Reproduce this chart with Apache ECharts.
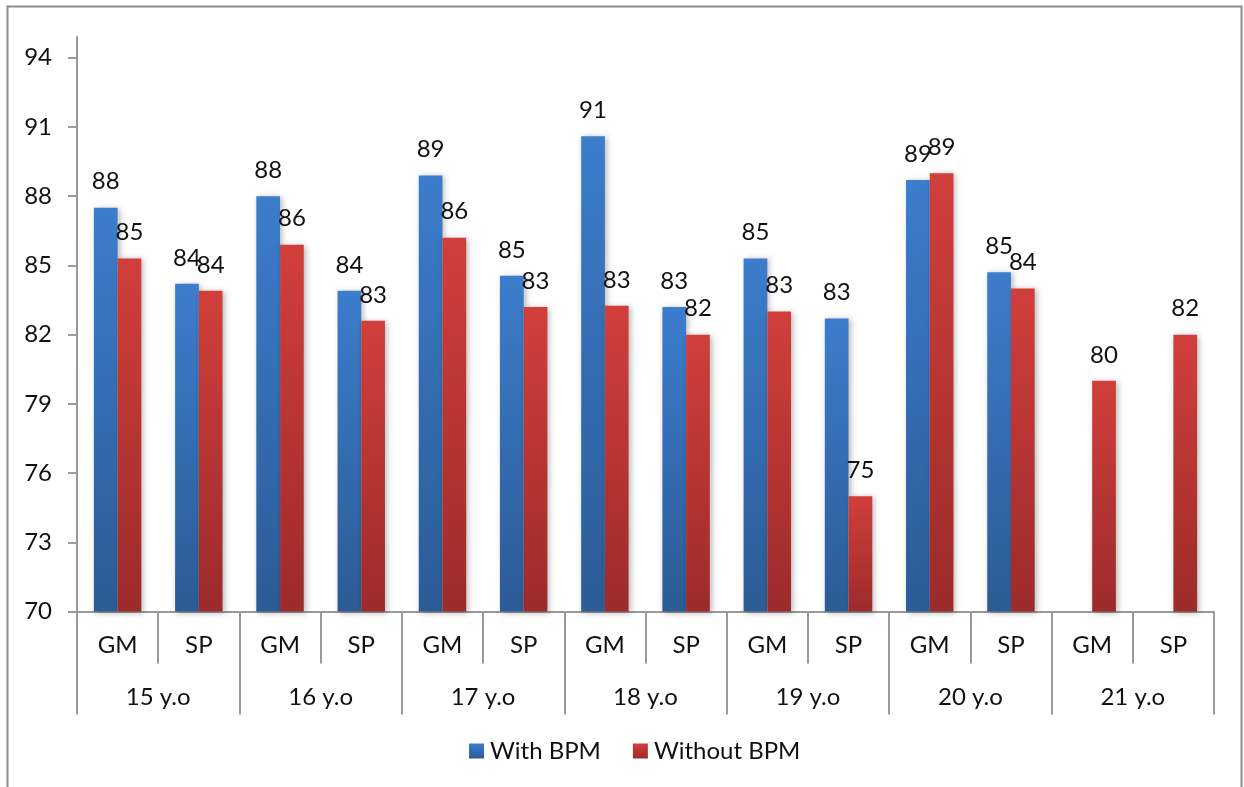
<!DOCTYPE html>
<html>
<head>
<meta charset="utf-8">
<script src="https://cdn.jsdelivr.net/npm/echarts@6/dist/echarts.min.js"></script>
<style>
  html, body { margin: 0; padding: 0; background: #fff; }
  #chart { width: 1244px; height: 787px; }
</style>
</head>
<body>
<div id="chart"></div>
<script>
// Sub-categories (inner axis row) and age groups (outer axis row)
const subCategories = ['GM', 'SP', 'GM', 'SP', 'GM', 'SP', 'GM', 'SP', 'GM', 'SP', 'GM', 'SP', 'GM', 'SP'];
const ageGroups = ['15 y.o', '16 y.o', '17 y.o', '18 y.o', '19 y.o', '20 y.o', '21 y.o'];

// Scores per sub-category
const withBPM = [87.5, 84.2, 88.0, 83.9, 88.9, 84.55, 90.6, 83.2, 85.3, 82.7, 88.7, 84.7, null, null];
const withoutBPM = [85.3, 83.9, 85.9, 82.6, 86.2, 83.2, 83.25, 82.0, 83.0, 75.0, 89.0, 84.0, 80.0, 82.0];

const yTicks = [70, 73, 76, 79, 82, 85, 88, 91, 94];

const FONT = 'Lato, "Open Sans", sans-serif';
const FONT_SIZE = 24;
const AXIS_GRAY = '#9a9a9a';

function grad(top, bottom) {
  return new echarts.graphic.LinearGradient(0, 0, 0, 1, [
    { offset: 0, color: top },
    { offset: 1, color: bottom }
  ]);
}
const blueFill = grad('#3c7dcc', '#2c5b96');
const redFill = grad('#d13f3b', '#9c2b2b');

const valueLabel = {
  show: true,
  position: 'top',
  distance: 14,
  color: '#111',
  fontFamily: FONT,
  fontSize: FONT_SIZE,
  formatter: p => (p.value == null ? '' : String(Math.round(p.value)))
};

const barShadow = {
  shadowBlur: 6,
  shadowColor: 'rgba(0,0,0,0.28)',
  shadowOffsetX: 2,
  shadowOffsetY: 1
};

const chart = echarts.init(document.getElementById('chart'), null, { renderer: 'canvas' });

chart.setOption({
  animation: false,
  backgroundColor: '#fff',
  textStyle: { fontFamily: FONT },
  graphic: [{
    type: 'rect',
    shape: { x: 7.5, y: 6.5, width: 1234, height: 800 },
    style: { fill: null, stroke: '#8c8c8c', lineWidth: 2 },
    silent: true,
    z: -1
  }],
  grid: { left: 77, right: 30, top: 37, bottom: 175.5 },
  legend: {
    bottom: 19,
    left: 464,
    itemWidth: 15,
    itemHeight: 15,
    itemGap: 32,
    icon: 'rect',
    textStyle: { fontFamily: FONT, fontSize: FONT_SIZE, color: '#111', padding: [0, 0, 0, 1] },
    data: ['With BPM', 'Without BPM']
  },
  xAxis: [
    {
      type: 'category',
      data: subCategories,
      position: 'bottom',
      axisLine: { show: true, lineStyle: { color: AXIS_GRAY, width: 2 } },
      axisTick: { show: true, length: 52, interval: 0, lineStyle: { color: AXIS_GRAY, width: 2 } },
      axisLabel: { interval: 0, margin: 22, color: '#111', fontFamily: FONT, fontSize: FONT_SIZE },
      splitLine: { show: false }
    },
    {
      type: 'category',
      data: ageGroups,
      position: 'bottom',
      axisLine: { show: false },
      axisTick: { show: true, length: 103, interval: 0, lineStyle: { color: AXIS_GRAY, width: 2 } },
      axisLabel: { interval: 0, margin: 74, color: '#111', fontFamily: FONT, fontSize: FONT_SIZE },
      splitLine: { show: false }
    }
  ],
  yAxis: {
    type: 'value',
    min: 70,
    max: 94.9,
    axisLine: { show: true, lineStyle: { color: AXIS_GRAY, width: 2 } },
    axisTick: { show: true, length: 9, customValues: yTicks, lineStyle: { color: AXIS_GRAY, width: 2 } },
    axisLabel: { margin: 25, customValues: yTicks, color: '#111', fontFamily: FONT, fontSize: FONT_SIZE },
    splitLine: { show: false }
  },
  series: [
    {
      name: 'With BPM',
      type: 'bar',
      xAxisIndex: 0,
      data: withBPM,
      barGap: '0%',
      barCategoryGap: '41.6%',
      itemStyle: Object.assign({ color: blueFill }, barShadow),
      label: valueLabel
    },
    {
      name: 'Without BPM',
      type: 'bar',
      xAxisIndex: 0,
      data: withoutBPM,
      barGap: '0%',
      barCategoryGap: '41.6%',
      itemStyle: Object.assign({ color: redFill }, barShadow),
      label: valueLabel
    }
  ]
});
</script>
</body>
</html>
